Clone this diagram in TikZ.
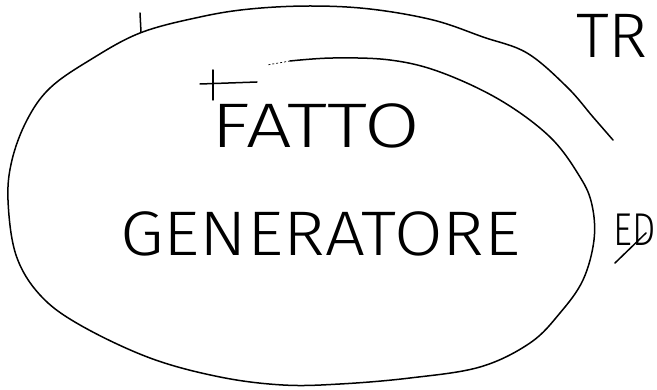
\documentclass[tikz,border=0pt]{standalone}
\usepackage{fontspec}
\IfFontExistsTF{Fira Sans Light}{\newfontfamily\hand{Fira Sans Light}}{\newfontfamily\hand{Liberation Sans}}
\begin{document}
\begin{tikzpicture}[x=1pt,y=-1pt,
  stroke/.style={line width=1.5pt,line cap=round,line join=round,black},
  handtext/.style={inner sep=0pt,font=\hand\fontsize{63}{63}\selectfont}]
\useasboundingbox (0,0) rectangle (657,390);
\clip (0,0) rectangle (657,390);
% spiral ellipse
\draw[stroke] plot[smooth,tension=0.6] coordinates {
 (613,140) (593,117) (567,87) (527,53) (483,37) (433,20) (370,9) (310,6)
 (250,9) (200,17) (140,33) (90,60) (50,88) (27,120) (12,160) (8,200)
 (16,255) (40,295) (80,325) (150,358) (220,377) (283,385) (340,384)
 (410,378) (480,367) (530,343) (560,313) (583,280) (594,240) (592,205)
 (580,177) (550,137) (500,100) (440,72) (390,60) (333,58) (290,61)};
\draw[line width=0.7pt,dashed,dash pattern=on 2pt off 2pt] (290,61) -- (267,65);
% small marks
\draw[stroke] (140,13) -- (141,32);
\draw[stroke] (200,84) -- (257,82);
\draw[stroke] (213,70) -- (213,100);
% texts
\node[handtext,anchor=base west] (fatto) at (211,148) {\scalebox{1.28}[1]{FATTO}};
\node[handtext,anchor=base west] (gen) at (120,256) {\scalebox{1.12}[1]{GENERATORE}};
\node[handtext,anchor=base west] (tr) at (576,58) {\scalebox{1.05}[1]{TR}};
\node[handtext,anchor=base west,font=\hand\fontsize{46}{46}\selectfont] (ed) at (613,246) {\scalebox{0.8}[1]{ED}};
\coordinate (s1) at (615,263);
\coordinate (s2) at (646,233);
\draw[stroke] (s1) -- (s2);
\end{tikzpicture}
\end{document}
